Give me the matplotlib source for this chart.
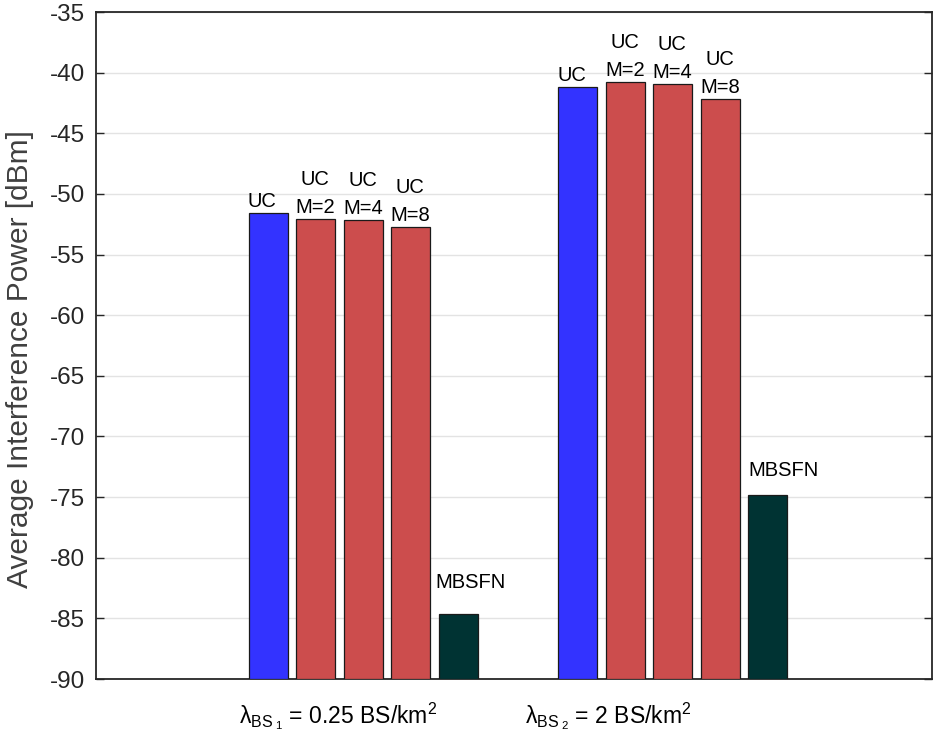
import matplotlib
matplotlib.use("Agg")
import matplotlib.pyplot as plt
import matplotlib.transforms as mtransforms
import numpy as np

plt.rcParams['font.family'] = ['Liberation Sans', 'DejaVu Sans']
plt.rcParams['mathtext.fontset'] = 'custom'
plt.rcParams['mathtext.rm'] = 'Liberation Sans'
plt.rcParams['mathtext.it'] = 'Liberation Sans'

# ---- data ----
group_labels = [r'$\mathrm{\lambda}_{\mathrm{BS}_{\ 1}}$ = 0.25 BS/km$^2$',
                r'$\mathrm{\lambda}_{\mathrm{BS}_{\ 2}}$ = 2 BS/km$^2$']
series_names = ['UC', 'UC\nM=2', 'UC\nM=4', 'UC\nM=8', 'MBSFN']
values = [
    [-51.6, -52.1, -52.15, -52.7, -84.6],   # lambda_BS1
    [-41.15, -40.8, -40.9, -42.2, -74.8],   # lambda_BS2
]
series_colors = ['#3333FF', '#CC4D4D', '#CC4D4D', '#CC4D4D', '#003333']
yticks = list(range(-90, -34, 5))

fig = plt.figure(figsize=(9.33, 7.56), dpi=100)
ax = fig.add_axes([96/933, 1 - 679/756, (932-96)/933, (679-12)/756])

bottom = -90
spacing = 0.1535
width = 0.126
group_x = np.arange(1, len(values) + 1)

for gi, gx in enumerate(group_x):
    for si, name in enumerate(series_names):
        x = gx + (si - 2) * spacing
        v = values[gi][si]
        ax.bar(x, v - bottom, bottom=bottom, width=width, color=series_colors[si],
               edgecolor='#1a1a1a', linewidth=0.9, zorder=3)
        if si == 4:
            off = [26, 19][gi]
            dx = [-4, 0][gi]
        else:
            off = 6
            dx = -1
        ax.annotate(name, xy=(x - width / 2, v), xytext=(dx, off), textcoords='offset pixels',
                    ha='left', va='baseline', multialignment='center',
                    fontsize=14.5, color='black', linespacing=1.6, zorder=4)

ax.set_ylim(-90, -35)
ax.set_xlim(0.1357, 2.837)
ax.set_yticks(yticks)
ax.set_yticklabels([str(t) for t in yticks])
ax.set_xticks([])

# group labels (left-aligned below the axis)
trans = mtransforms.blended_transform_factory(ax.transData, ax.transAxes)
label_left = [0.598, 1.522]
for lx, lab in zip(label_left, group_labels):
    ax.text(lx, -44 / 667, lab, transform=trans, ha='left', va='baseline',
            fontsize=16.5, color='black')

ax.tick_params(axis='y', direction='in', length=6, width=1, labelsize=17.5,
               colors='#262626', right=True, pad=8)
ax.set_ylabel('Average Interference Power [dBm]', fontsize=21.5, color='#404040')
ax.yaxis.set_label_coords(-62 / 836, 0.48)
ax.yaxis.grid(True, color='#e3e3e3', linewidth=1, zorder=0)
ax.set_axisbelow(True)
for s in ['left', 'bottom', 'top', 'right']:
    ax.spines[s].set_color('#262626')
    ax.spines[s].set_linewidth(1.3)

fig.savefig('out.png', dpi=100)
